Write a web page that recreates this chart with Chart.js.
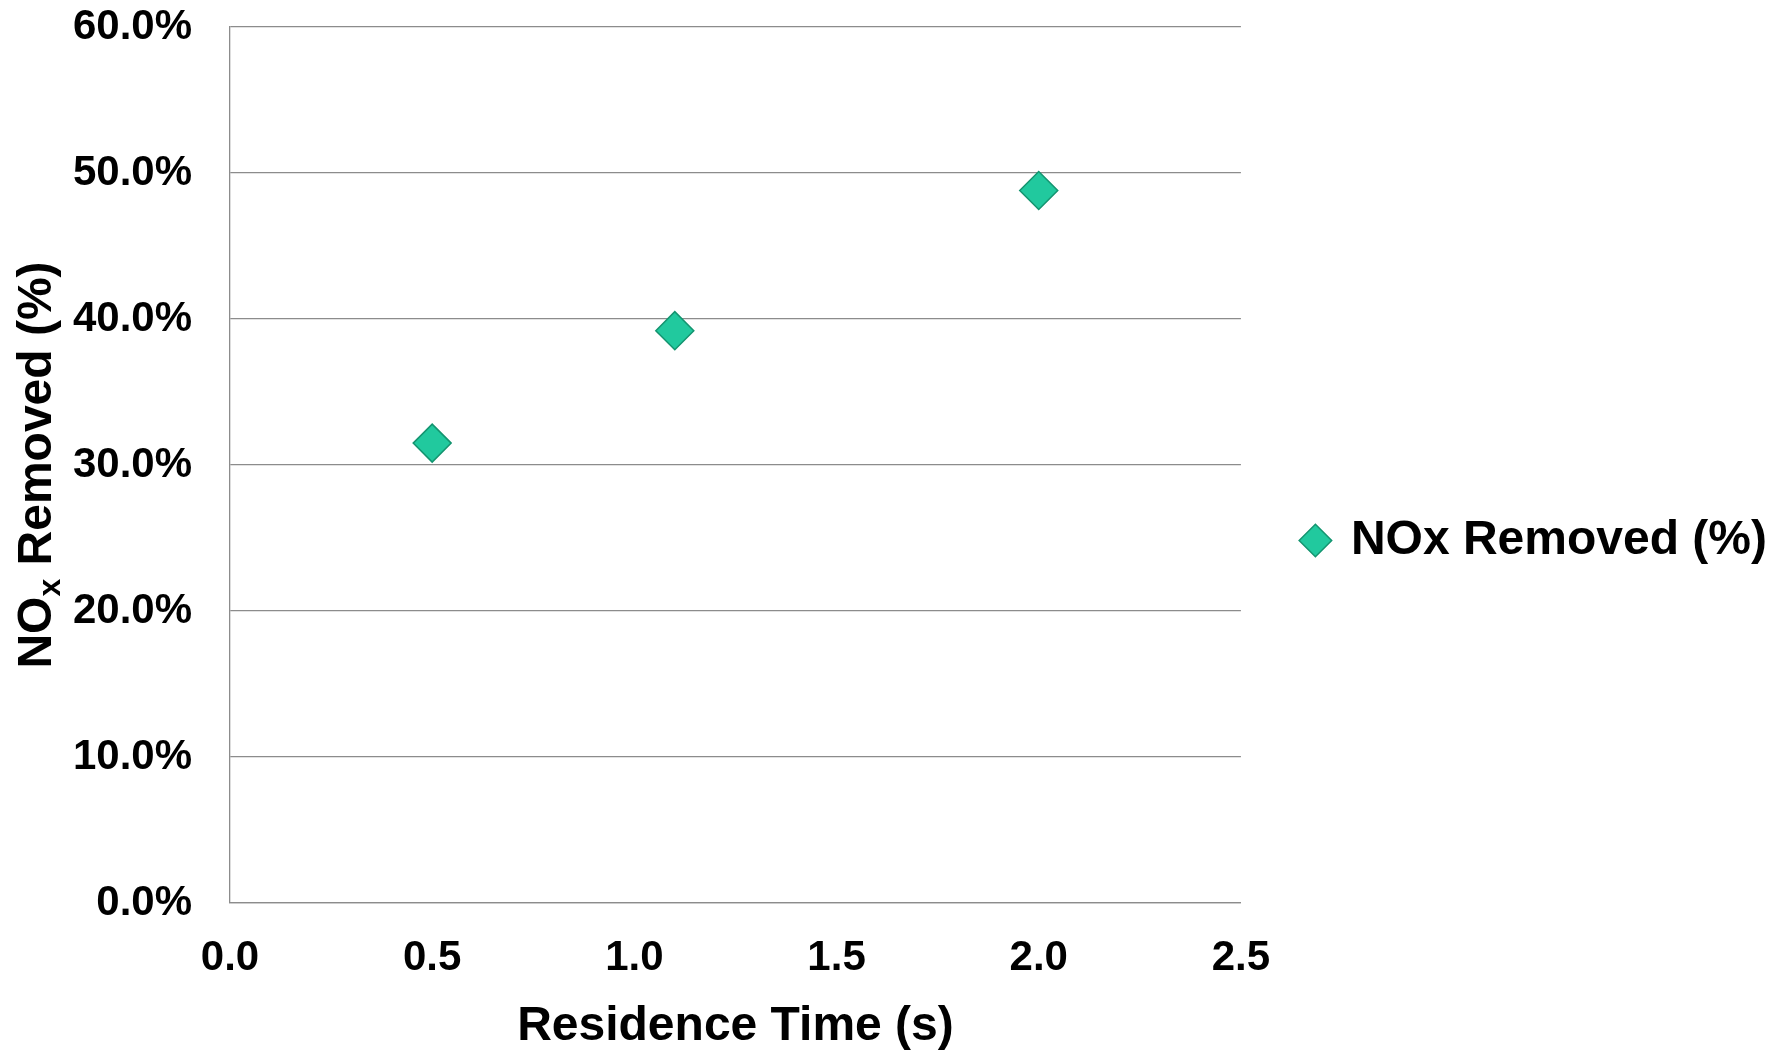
<!DOCTYPE html>
<html>
<head>
<meta charset="utf-8">
<script src="https://cdn.jsdelivr.net/npm/chart.js@4.4.0/dist/chart.umd.min.js"></script>
<style>
    body { margin: 0; background: #ffffff; }
</style>
</head>
<body>
<canvas id="noxChart" width="1790" height="1054"></canvas>
<script>
// Werte
var residenceTime = [0.5, 1.1, 2.0];
var noxRemoved = [31.5, 39.2, 48.8];
var seriesLabel = 'NOx Removed (%)';
var xTitle = 'Residence Time (s)';

var gridColor = '#8c8c8c';
var markerColor = '#21c99e';
var markerBorder = '#13946f';

Chart.defaults.font.family = "'Liberation Sans', Arial, sans-serif";
Chart.defaults.color = '#000000';

var points = [];
for (var i = 0; i < residenceTime.length; i++) {
    points.push({x: residenceTime[i], y: noxRemoved[i]});
}

// y-Achsentitel mit tiefgestelltem x
var yTitlePlugin = {
    id: 'yTitle',
    afterDraw: function(chart) {
        var ctx = chart.ctx;
        var area = chart.chartArea;
        var big = "bold 48px 'Liberation Sans', Arial, sans-serif";
        var small = "bold 32px 'Liberation Sans', Arial, sans-serif";
        ctx.save();
        ctx.translate(38, (area.top + area.bottom) / 2);
        ctx.rotate(-Math.PI / 2);
        ctx.fillStyle = '#000000';
        ctx.textBaseline = 'middle';
        ctx.textAlign = 'left';
        ctx.font = big;
        var w1 = ctx.measureText('NO').width;
        var w3 = ctx.measureText(' Removed (%)').width;
        ctx.font = small;
        var w2 = ctx.measureText('x').width;
        var x = -(w1 + w2 + w3) / 2;
        ctx.font = big;
        ctx.fillText('NO', x, 0);
        ctx.font = small;
        ctx.fillText('x', x + w1, 13);
        ctx.font = big;
        ctx.fillText(' Removed (%)', x + w1 + w2, 0);
        ctx.restore();
    }
};

var chart = new Chart(document.getElementById('noxChart'), {
    type: 'scatter',
    data: {
        datasets: [{
            label: seriesLabel,
            data: points,
            pointStyle: 'rectRot',
            pointRadius: 19,
            pointHoverRadius: 19,
            backgroundColor: markerColor,
            borderColor: markerBorder,
            borderWidth: 1.5,
        }]
    },
    options: {
        responsive: false,
        devicePixelRatio: 1,
        animation: false,
        layout: {padding: {top: 27, right: 13, bottom: 0, left: 0}},
        plugins: {
            tooltip: {enabled: false},
            legend: {
                position: 'right',
                maxWidth: 700,
                labels: {
                    usePointStyle: true,
                    boxWidth: 23,
                    boxHeight: 23,
                    padding: 10,
                    color: '#000000',
                    font: {size: 48, weight: 'bold'}
                }
            }
        },
        scales: {
            x: {
                type: 'linear',
                min: 0,
                max: 2.5,
                afterFit: function(scale) { scale.height = 151; },
                grid: {display: false, drawTicks: false},
                border: {display: true, color: gridColor, width: 1.3},
                ticks: {
                    stepSize: 0.5,
                    padding: 30,
                    font: {size: 42, weight: 'bold'},
                    callback: function(v) { return v.toFixed(1); }
                },
                title: {
                    display: true,
                    text: xTitle,
                    padding: {top: 0, bottom: 0},
                    font: {size: 48, weight: 'bold', lineHeight: 1.12}
                }
            },
            y: {
                type: 'linear',
                min: 0,
                max: 60,
                afterFit: function(scale) {
                    scale.width = 230;
                    scale.paddingTop = 0;
                    scale.paddingBottom = 0;
                },
                grid: {color: gridColor, lineWidth: 1.3, drawTicks: false},
                border: {display: true, color: gridColor, width: 1.3},
                ticks: {
                    stepSize: 10,
                    padding: 38,
                    font: {size: 42, weight: 'bold'},
                    callback: function(v) { return v.toFixed(1) + '%'; }
                }
            },
            gap: {
                type: 'linear',
                axis: 'y',
                position: 'right',
                display: true,
                afterFit: function(scale) { scale.width = 53; },
                grid: {display: false},
                border: {display: false},
                ticks: {display: false}
            }
        }
    },
    plugins: [yTitlePlugin]
});
</script>
</body>
</html>
